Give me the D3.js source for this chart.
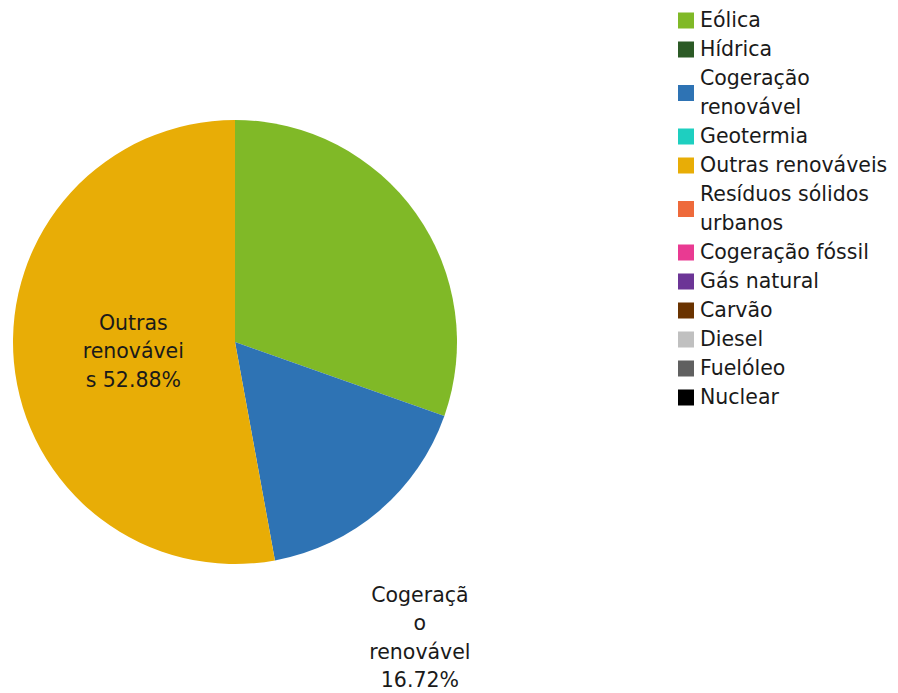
<!DOCTYPE html>
<html><head><meta charset="utf-8">
<script src="https://cdn.jsdelivr.net/npm/d3@7"></script>
<style>body{margin:0;background:#fff}svg{display:block}text{font-family:"DejaVu Sans",sans-serif;fill:#1a1a1a}</style>
</head><body>
<svg id="c" width="898" height="693"></svg>
<script>
const categories = ["Eólica","Hídrica","Cogeração renovável","Geotermia","Outras renováveis","Resíduos sólidos urbanos","Cogeração fóssil","Gás natural","Carvão","Diesel","Fuelóleo","Nuclear"];
const values = [30.40,0,16.72,0,52.88,0,0,0,0,0,0,0];
const colors = ["#80b927","#2c5a26","#2e73b4","#1ecfc0","#e8ad06","#ee6a3b","#e93a92","#6c3596","#6a3300","#c0c0c0","#606060","#000000"];
const legendLines = [["Eólica"],["Hídrica"],["Cogeração","renovável"],["Geotermia"],["Outras renováveis"],["Resíduos sólidos","urbanos"],["Cogeração fóssil"],["Gás natural"],["Carvão"],["Diesel"],["Fuelóleo"],["Nuclear"]];

const svg = d3.select("#c");
const cx = 235, cy = 342, R = 222;
const FS = 20.5;
const data = categories.map((c,i)=>({name:c,value:values[i],color:colors[i],i}));
const pie = d3.pie().sort(null).value(d=>d.value);
const arcs = pie(data);
const arc = d3.arc().innerRadius(0).outerRadius(R);
const g = svg.append("g").attr("transform",`translate(${cx},${cy})`);
g.selectAll("path").data(arcs.filter(a=>a.data.value>0)).join("path")
  .attr("d",arc).attr("fill",d=>d.data.color);

const meas = svg.append("text").style("font-size",FS+"px");
const w = s=>{meas.text(s);return meas.node().getComputedTextLength();};
function wrapChars(str, maxW){
  const words = str.split(" ");
  const lines=[]; let cur="";
  for(const word of words){
    const cand = cur? cur+" "+word : word;
    if(w(cand)<=maxW){cur=cand;continue;}
    if(cur){lines.push(cur);cur="";}
    let piece="";
    for(const ch of word){
      if(w(piece+ch)>maxW && piece){lines.push(piece);piece=ch;} else piece+=ch;
    }
    cur=piece;
  }
  if(cur)lines.push(cur);
  return lines;
}
const maxW = w("renovável")+1;
const LH = 28.5;
const fmt = v=>d3.format(".2f")(v)+"%";
// inside label for largest
{
  const inner = arcs[4];
  const labelArc = d3.arc().innerRadius(R*0.46).outerRadius(R*0.46);
  const c = labelArc.centroid(inner);
  const lines = wrapChars(inner.data.name+" "+fmt(inner.data.value), maxW);
  const t = g.append("text").attr("text-anchor","middle").style("font-size",FS+"px");
  lines.forEach((l,k)=>t.append("tspan").attr("x",c[0]).attr("y",c[1]+(k-(lines.length-1)/2)*LH+7).text(l));
}
// outside label
{
  const a = arcs[2];
  const outer = d3.arc().innerRadius(R*1.2).outerRadius(R*1.2);
  const c = outer.centroid(a);
  const lines = wrapChars(a.data.name+" "+fmt(a.data.value), maxW);
  const t = g.append("text").attr("text-anchor","middle").style("font-size",FS+"px");
  lines.forEach((l,k)=>t.append("tspan").attr("x",c[0]+12).attr("y",c[1]+57+k*LH).text(l));
}
meas.remove();
// legend
const lg = svg.append("g").attr("transform","translate(678,0)");
let y = 6;
legendLines.forEach((lines,i)=>{
  const h = lines.length*29;
  lg.append("rect").attr("x",0).attr("y",y+h/2-8).attr("width",16).attr("height",16).attr("fill",colors[i]);
  const t = lg.append("text").style("font-size",FS+"px");
  lines.forEach((l,k)=>t.append("tspan").attr("x",22).attr("y",y+21+k*29).text(l));
  y += h;
});
</script>
</body></html>
